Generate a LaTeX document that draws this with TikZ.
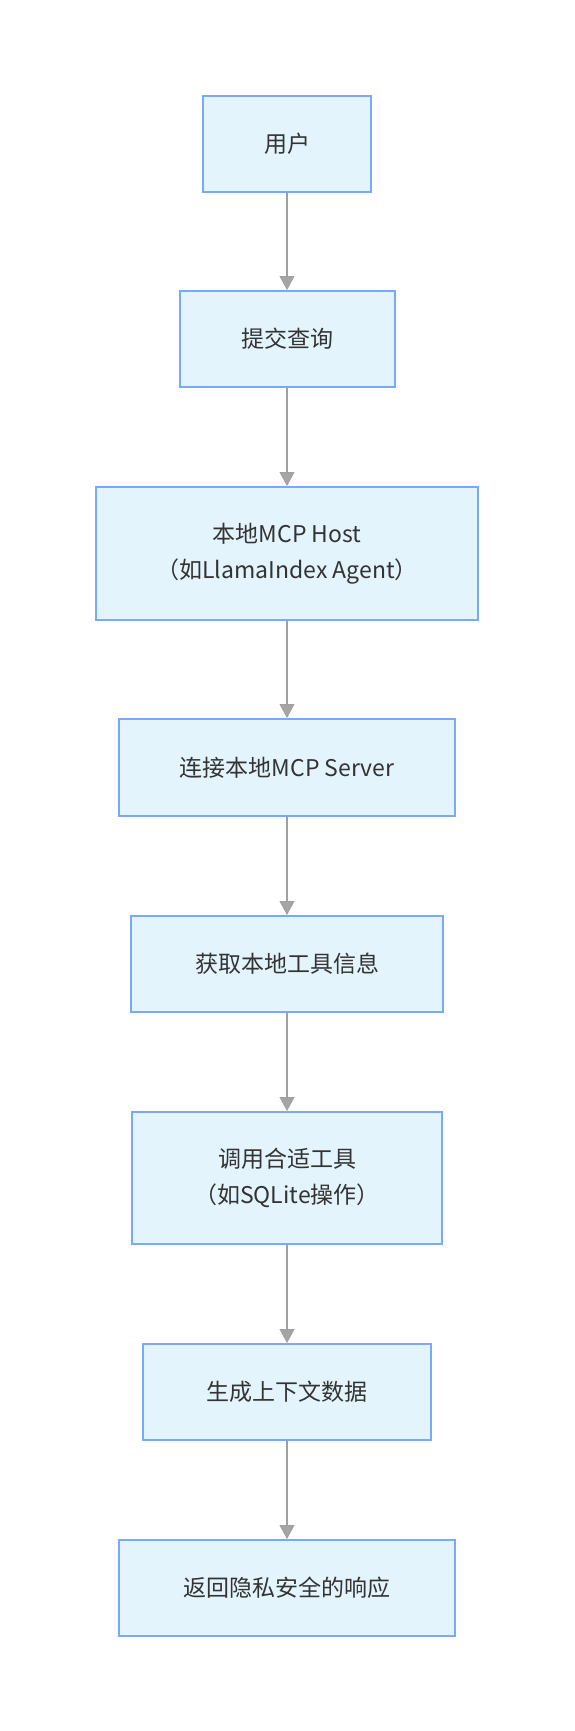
\documentclass[tikz,border=0pt]{standalone}
\usepackage{fontspec}
\setmainfont{Noto Sans CJK SC}
\usetikzlibrary{arrows.meta}
\definecolor{boxfill}{RGB}{227,244,253}
\definecolor{boxline}{RGB}{122,168,250}
\definecolor{arrline}{RGB}{160,160,160}
\definecolor{tipfill}{RGB}{165,165,165}
\definecolor{tiptxt}{RGB}{51,51,51}
\tikzset{
  stepbox/.style={draw=boxline, fill=boxfill, line width=2pt, rectangle,
    inner sep=0pt, align=center, text=tiptxt,
    font=\fontsize{23}{36.5}\selectfont},
  flow/.style={draw=arrline, line width=1.6pt,
    -{Triangle[width=15pt,length=14pt,color=arrline,fill=tipfill,line width=1pt]}}
}
\begin{document}
\begin{tikzpicture}[x=1pt,y=-1pt]
\useasboundingbox (0,0) rectangle (574,1731);
\node[stepbox, minimum width=168pt, minimum height=96pt] (n1) at (287,144) {用户};
\node[stepbox, minimum width=215pt, minimum height=96pt] (n2) at (287,339) {提交查询};
\node[stepbox, minimum width=382pt, minimum height=133pt] (n3) at (287,553.5) {本地MCP Host\\（如LlamaIndex Agent）};
\node[stepbox, minimum width=336pt, minimum height=97pt] (n4) at (287,767.5) {连接本地MCP Server};
\node[stepbox, minimum width=312pt, minimum height=96pt] (n5) at (287,964) {获取本地工具信息};
\node[stepbox, minimum width=310pt, minimum height=132pt] (n6) at (287,1178) {调用合适工具\\（如SQLite操作）};
\node[stepbox, minimum width=288pt, minimum height=96pt] (n7) at (287,1392) {生成上下文数据};
\node[stepbox, minimum width=336pt, minimum height=96pt] (n8) at (287,1588) {返回隐私安全的响应};
\draw[flow] (n1) -- (n2);
\draw[flow] (n2) -- (n3);
\draw[flow] (n3) -- (n4);
\draw[flow] (n4) -- (n5);
\draw[flow] (n5) -- (n6);
\draw[flow] (n6) -- (n7);
\draw[flow] (n7) -- (n8);
\end{tikzpicture}
\end{document}
